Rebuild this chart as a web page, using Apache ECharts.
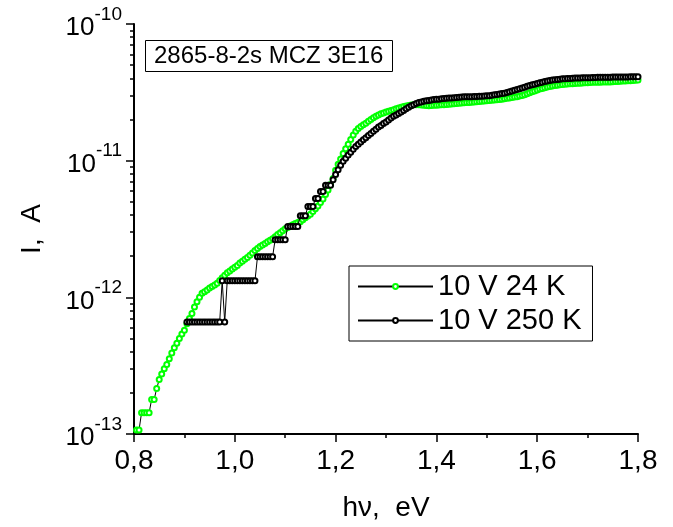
<!DOCTYPE html>
<html>
<head>
<meta charset="utf-8">
<script src="https://cdn.jsdelivr.net/npm/echarts@6/dist/echarts.min.js"></script>
<style>
  html, body { margin: 0; padding: 0; background: #fff; }
  #show { width: 673px; height: 527px; }
</style>
</head>
<body>
<div id="show"></div>
<script>
var myChart = echarts.init(document.getElementById("show"));
var FONT = "'Liberation Sans', Arial, sans-serif";

// photon energy, eV
var hv = [
  0.805, 0.81, 0.815, 0.82, 0.825, 0.83, 0.835, 0.84, 0.845, 0.85,
  0.855, 0.86, 0.865, 0.87, 0.875, 0.88, 0.885, 0.89, 0.895, 0.90,
  0.905, 0.91, 0.915, 0.92, 0.925, 0.93, 0.935, 0.94, 0.945, 0.95,
  0.955, 0.96, 0.965, 0.97, 0.975, 0.98, 0.985, 0.99, 0.995, 1.00,
  1.005, 1.01, 1.015, 1.02, 1.025, 1.03, 1.035, 1.04, 1.045, 1.05,
  1.055, 1.06, 1.065, 1.07, 1.075, 1.08, 1.085, 1.09, 1.095, 1.10,
  1.105, 1.11, 1.115, 1.12, 1.125, 1.13, 1.135, 1.14, 1.145, 1.15,
  1.155, 1.16, 1.165, 1.17, 1.175, 1.18, 1.185, 1.19, 1.195, 1.20,
  1.205, 1.21, 1.215, 1.22, 1.225, 1.23, 1.235, 1.24, 1.245, 1.25,
  1.255, 1.26, 1.265, 1.27, 1.275, 1.28, 1.285, 1.29, 1.295, 1.30,
  1.305, 1.31, 1.315, 1.32, 1.325, 1.33, 1.335, 1.34, 1.345, 1.35,
  1.355, 1.36, 1.365, 1.37, 1.375, 1.38, 1.385, 1.39, 1.395, 1.40,
  1.405, 1.41, 1.415, 1.42, 1.425, 1.43, 1.435, 1.44, 1.445, 1.45,
  1.455, 1.46, 1.465, 1.47, 1.475, 1.48, 1.485, 1.49, 1.495, 1.50,
  1.505, 1.51, 1.515, 1.52, 1.525, 1.53, 1.535, 1.54, 1.545, 1.55,
  1.555, 1.56, 1.565, 1.57, 1.575, 1.58, 1.585, 1.59, 1.595, 1.60,
  1.605, 1.61, 1.615, 1.62, 1.625, 1.63, 1.635, 1.64, 1.645, 1.65,
  1.655, 1.66, 1.665, 1.67, 1.675, 1.68, 1.685, 1.69, 1.695, 1.70,
  1.705, 1.71, 1.715, 1.72, 1.725, 1.73, 1.735, 1.74, 1.745, 1.75,
  1.755, 1.76, 1.765, 1.77, 1.775, 1.78, 1.785, 1.79, 1.795, 1.80
];

// current at 10 V, 24 K (pA)
var i24K = [
  0.107, 0.107, 0.143, 0.143, 0.143, 0.143, 0.179, 0.179, 0.215, 0.25,
  0.275, 0.30, 0.323, 0.355, 0.391, 0.428, 0.462, 0.50, 0.54, 0.575,
  0.64, 0.70, 0.76, 0.85, 0.93, 1.00, 1.07, 1.10, 1.13, 1.17,
  1.20, 1.23, 1.27, 1.33, 1.39, 1.45, 1.51, 1.56, 1.61, 1.66,
  1.71, 1.78, 1.84, 1.90, 1.96, 2.03, 2.11, 2.20, 2.28, 2.35,
  2.41, 2.48, 2.55, 2.62, 2.68, 2.78, 2.88, 2.97, 3.07, 3.17,
  3.25, 3.33, 3.40, 3.47, 3.53, 3.58, 3.70, 3.82, 3.94, 4.05,
  4.25, 4.45, 4.65, 4.95, 5.25, 5.65, 6.1, 6.7, 7.4, 8.5,
  9.4, 10.3, 11.3, 12.2, 13.2, 14.3, 15.4, 16.4, 17.2, 17.8,
  18.3, 18.8, 19.4, 20.0, 20.6, 21.1, 21.6, 22.0, 22.3, 22.7,
  23.0, 23.3, 23.6, 24.0, 24.3, 24.6, 24.9, 25.1, 25.3, 25.5,
  25.6, 25.7, 25.6, 25.5, 25.4, 25.3, 25.2, 25.3, 25.4, 25.4,
  25.5, 25.6, 25.7, 25.8, 25.9, 26.0, 26.1, 26.2, 26.3, 26.4,
  26.5, 26.6, 26.7, 26.8, 26.9, 27.0, 27.1, 27.2, 27.3, 27.4,
  27.6, 27.7, 27.8, 27.9, 28.0, 28.2, 28.4, 28.6, 28.8, 29.0,
  29.2, 29.4, 29.7, 30.0, 30.4, 30.9, 31.4, 31.9, 32.4, 32.9,
  33.4, 33.8, 34.2, 34.6, 34.9, 35.2, 35.5, 35.7, 35.9, 36.1,
  36.3, 36.4, 36.5, 36.6, 36.7, 36.8, 36.9, 37.0, 37.1, 37.2,
  37.3, 37.4, 37.4, 37.5, 37.5, 37.6, 37.6, 37.7, 37.7, 37.8,
  37.9, 38.0, 38.1, 38.2, 38.3, 38.4, 38.5, 38.6, 38.8, 38.9
];

// current at 10 V, 250 K (pA); null where nothing was measured
var i250K = [
  null, null, null, null, null, null, null, null, null, null,
  null, null, null, null, null, null, null, null, null, null,
  0.66, 0.66, 0.66, 0.66, 0.66, 0.66, 0.66, 0.66, 0.66, 0.66,
  0.66, 0.66, 0.66, 0.66, 1.32, 0.66, 1.32, 1.32, 1.32, 1.32,
  1.32, 1.32, 1.32, 1.32, 1.32, 1.32, 1.32, 1.32, 1.98, 1.98,
  1.98, 1.98, 1.98, 1.98, 1.98, 2.64, 2.64, 2.64, 2.64, 2.64,
  3.30, 3.30, 3.30, 3.30, 3.30, 3.96, 3.96, 3.96, 4.62, 4.62,
  4.62, 5.28, 5.28, 5.94, 5.94, 6.60, 6.60, 6.60, 7.26, 7.92,
  8.58, 9.24, 9.90, 10.4, 11.0, 11.5, 12.1, 12.7, 13.2, 13.7,
  14.2, 14.7, 15.3, 15.8, 16.4, 17.0, 17.6, 18.1, 18.7, 19.2,
  19.8, 20.5, 21.1, 21.6, 22.1, 22.7, 23.3, 24.0, 24.6, 25.2,
  25.7, 26.2, 26.6, 26.9, 27.2, 27.4, 27.6, 27.8, 28.0, 28.1,
  28.2, 28.4, 28.5, 28.6, 28.7, 28.8, 28.9, 29.0, 29.1, 29.2,
  29.3, 29.3, 29.4, 29.4, 29.5, 29.5, 29.6, 29.6, 29.7, 29.8,
  29.9, 30.1, 30.3, 30.5, 30.7, 31.0, 31.2, 31.5, 31.9, 32.3,
  32.7, 33.2, 33.6, 34.0, 34.5, 35.0, 35.5, 35.9, 36.3, 36.7,
  37.1, 37.5, 37.9, 38.3, 38.6, 38.9, 39.1, 39.3, 39.5, 39.7,
  39.8, 39.9, 40.0, 40.1, 40.2, 40.3, 40.3, 40.4, 40.4, 40.5,
  40.5, 40.6, 40.6, 40.7, 40.7, 40.7, 40.8, 40.8, 40.8, 40.9,
  40.9, 40.9, 41.0, 41.0, 41.0, 41.0, 41.1, 41.1, 41.1, 41.1
];

var seriesNames = ['10 V 24 K', '10 V 250 K'];
var sampleLabel = '2865-8-2s MCZ 3E16';

function toPairs(vals) {
    return hv.map(function (x, i) {
        return vals[i] == null ? [x, '-'] : [x, vals[i] * 1e-12];
    });
}

myChart.setOption({
    animation: false,
    title: {
        text: sampleLabel,
        left: 145,
        top: 40,
        padding: [4, 9, 4, 9],
        borderColor: '#000',
        borderWidth: 1,
        textStyle: { fontFamily: FONT, fontSize: 24, fontWeight: 'normal', color: '#000', lineHeight: 24 }
    },
    legend: {
        orient: 'vertical',
        left: 349,
        top: 266,
        data: seriesNames,
        itemWidth: 75,
        itemHeight: 6,
        itemGap: 5,
        padding: [6, 11, 6, 8],
        borderColor: '#000',
        borderWidth: 1,
        backgroundColor: '#fff',
        textStyle: { fontFamily: FONT, fontSize: 29, color: '#000' }
    },
    grid: { left: 134, right: 35, top: 24, bottom: 93 },
    xAxis: {
        type: 'value',
        min: 0.8,
        max: 1.8,
        interval: 0.2,
        name: 'h\u03bd,  eV',
        nameLocation: 'middle',
        nameGap: 60,
        nameTextStyle: { fontFamily: FONT, fontSize: 28, color: '#000' },
        axisLine: { onZero: false, lineStyle: { color: '#000', width: 2 } },
        axisTick: { length: 8, lineStyle: { color: '#000', width: 1.5 } },
        minorTick: { show: true, splitNumber: 2, length: 4, lineStyle: { color: '#000', width: 1.5 } },
        splitLine: { show: false },
        axisLabel: {
            margin: 13,
            fontFamily: FONT,
            fontSize: 28,
            color: '#000',
            formatter: function (v) { return v.toFixed(1).replace('.', ','); }
        }
    },
    yAxis: {
        type: 'log',
        logBase: 10,
        min: 1e-13,
        max: 1e-10,
        name: 'I,  A',
        nameLocation: 'middle',
        nameGap: 88,
        nameTextStyle: { fontFamily: FONT, fontSize: 28, color: '#000' },
        axisLine: { show: true, lineStyle: { color: '#000', width: 2 } },
        axisTick: { show: true, length: 8, lineStyle: { color: '#000', width: 1.5 } },
        minorTick: { show: true, splitNumber: 9, length: 4, lineStyle: { color: '#000', width: 1.5 } },
        splitLine: { show: false },
        minorSplitLine: { show: false },
        axisLabel: {
            margin: 12,
            padding: [8, 0, 0, 0],
            color: '#000',
            fontFamily: FONT,
            formatter: function (v) {
                return '{b|10}{s|' + Math.round(Math.log10(v)) + '}';
            },
            rich: {
                b: { fontFamily: FONT, fontSize: 26, lineHeight: 46, color: '#000' },
                s: { fontFamily: FONT, fontSize: 19, lineHeight: 19, verticalAlign: 'top', color: '#000' }
            }
        }
    },
    series: [
        {
            name: seriesNames[0],
            type: 'line',
            data: toPairs(i24K),
            symbol: 'emptyCircle',
            symbolSize: 5,
            itemStyle: { color: '#00ff00', borderColor: '#00ff00', borderWidth: 1 },
            lineStyle: { color: '#000', width: 1 },
            z: 2
        },
        {
            name: seriesNames[1],
            type: 'line',
            data: toPairs(i250K),
            symbol: 'emptyCircle',
            symbolSize: 5,
            itemStyle: { color: '#000', borderColor: '#000', borderWidth: 1 },
            lineStyle: { color: '#000', width: 1 },
            z: 3
        }
    ]
});
</script>
</body>
</html>
